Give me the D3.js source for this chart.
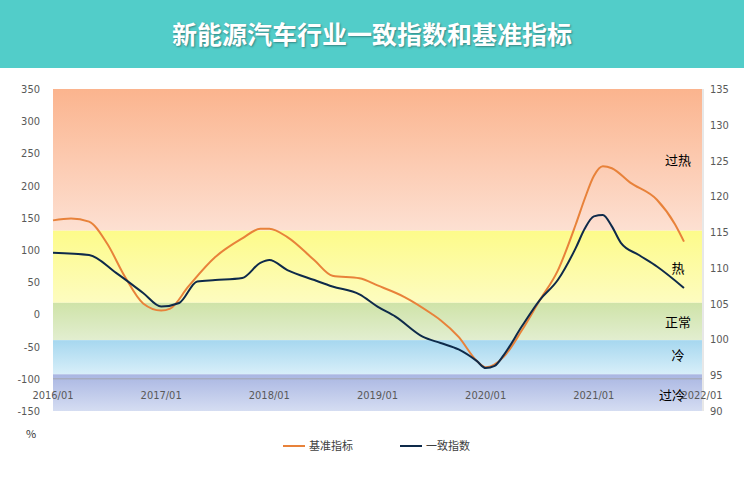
<!DOCTYPE html>
<html><head><meta charset="utf-8">
<script src="https://cdn.jsdelivr.net/npm/d3@7"></script>
<style>body{margin:0;background:#fff;font-family:"Noto Sans CJK SC","Noto Sans",sans-serif}</style>
</head><body><svg id="c" width="744" height="480"></svg>
<script>
// month index from 2016/01
var baseMonths = [0,2,4,6,8,10,12,13,15,18,21,23,24,26,29,31,34,36,39,42,43,45,47,48,50,52,54,56,58,59,60,61,62,64,67,69,70];
var baseValues = [146,149,144,110,58,17,6,9,43,89,118,133,133,120,84,60,56,45,27,1,-9,-35,-72,-82,-66,-25,22,68,140,180,215,230,227,205,178,140,113];
var cohMonths = [0,4,7,10,12,14,16,18,21,23,24,26,29,31,34,36,38,41,43,45,47,48,49,50,52,54,56,58,59,60,61,62,63,65,67,70];
var cohValues = [112.1,111.8,109.3,106.5,104.6,105.1,108.1,108.3,108.6,110.7,111.1,109.7,108.3,107.4,106.3,104.6,103.2,100.4,99.5,98.6,97.0,96.0,96.3,97.8,101.8,105.5,108.3,112.8,115.5,117.2,117.4,115.8,113.5,111.8,110.2,107.2];
var xLabels = ['2016/01','2017/01','2018/01','2019/01','2020/01','2021/01','2022/01'];
var leftTicks = [350,300,250,200,150,100,50,0,-50,-100,-150];
var rightTicks = [135,130,125,120,115,110,105,100,95,90];
var bands = [
  {lo:130, hi:350, top:'#fbb48e', bot:'#fde0d2', label:'过热', ly:160},
  {lo:18, hi:130, top:'#fdfb8a', bot:'#fdfcc0', label:'热', ly:268},
  {lo:-40, hi:18, top:'#cfe3a8', bot:'#e2eed0', label:'正常', ly:322},
  {lo:-93, hi:-40, top:'#a6d7ef', bot:'#d8eff9', label:'冷', ly:355},
  {lo:-150, hi:-93, top:'#a9b6e2', bot:'#d5ddf2', label:'过冷', ly:395}
];

var svg = d3.select('#c');
var x = d3.scaleLinear().domain([0,72]).range([53,702]);
var yL = d3.scaleLinear().domain([-150,350]).range([411,89]);
var yR = d3.scaleLinear().domain([90,135]).range([411,89]);

// title bar
svg.append('rect').attr('width',744).attr('height',68).attr('fill','#52cdc9');
svg.append('text').attr('x',372).attr('y',44).attr('text-anchor','middle')
  .attr('font-size',25).attr('font-weight','bold').attr('fill','#fff')
  .style('text-shadow','1px 1px 2px rgba(0,0,0,0.35)')
  .text('新能源汽车行业一致指数和基准指标');

var defs = svg.append('defs');
bands.forEach(function(b, i) {
  var g = defs.append('linearGradient').attr('id','g'+i).attr('x1',0).attr('y1',0).attr('x2',0).attr('y2',1);
  g.append('stop').attr('offset','0%').attr('stop-color',b.top);
  g.append('stop').attr('offset','100%').attr('stop-color',b.bot);
  svg.append('rect').attr('x',53).attr('width',649)
    .attr('y',yL(b.hi)).attr('height',yL(b.lo)-yL(b.hi)).attr('fill','url(#g'+i+')');
});

// category axis line at -100
svg.append('line').attr('x1',53).attr('x2',702).attr('y1',yL(-100)).attr('y2',yL(-100))
  .attr('stroke','#a0a0a0').attr('stroke-width',0.8);
svg.append('line').attr('x1',703).attr('x2',703).attr('y1',89).attr('y2',411)
  .attr('stroke','#d0d0d0');

var lab = {'font-size':11,'fill':'#595959','font-family':'"Liberation Sans Narrow","DejaVu Sans Condensed",sans-serif'};
function st(sel){ for (var k in lab) sel.attr(k, lab[k]); return sel; }

st(svg.selectAll('.lt').data(leftTicks).enter().append('text')
  .attr('x',40).attr('y',function(d){return yL(d)+4;}).attr('text-anchor','end').text(function(d){return d;}));
st(svg.selectAll('.rt').data(rightTicks).enter().append('text')
  .attr('x',710).attr('y',function(d){return yR(d)+4;}).text(function(d){return d;}));
st(svg.selectAll('.xt').data(xLabels).enter().append('text')
  .attr('x',function(d,i){return x(i*12);}).attr('y',399).attr('text-anchor','middle').text(function(d){return d;}));

svg.selectAll('.bl').data(bands).enter().append('text')
  .attr('x',function(d){return d.label=='过冷' ? 672 : 678;}).attr('y',function(d){return d.ly+5;}).attr('text-anchor','middle')
  .attr('font-size',13).attr('fill','#000').text(function(d){return d.label;});

var baseLine = d3.line().x(function(d){return x(d[0]);}).y(function(d){return yL(d[1]);}).curve(d3.curveMonotoneX);
var cohLine = d3.line().x(function(d){return x(d[0]);}).y(function(d){return yR(d[1]);}).curve(d3.curveMonotoneX);
svg.append('path').datum(d3.zip(baseMonths, baseValues)).attr('d', baseLine)
  .attr('fill','none').attr('stroke','#e8823a').attr('stroke-width',2);
svg.append('path').datum(d3.zip(cohMonths, cohValues)).attr('d', cohLine)
  .attr('fill','none').attr('stroke','#0e2a4a').attr('stroke-width',2);

svg.append('text').attr('x',26).attr('y',438).attr('font-size',11).attr('fill','#333').text('%');

// legend
var leg = [{n:'基准指标',c:'#e8823a',x:283},{n:'一致指数',c:'#0e2a4a',x:400}];
leg.forEach(function(l){
  svg.append('line').attr('x1',l.x).attr('x2',l.x+22).attr('y1',446).attr('y2',446).attr('stroke',l.c).attr('stroke-width',2);
  svg.append('text').attr('x',l.x+26).attr('y',450).attr('font-size',11).attr('fill','#404040').text(l.n);
});
</script></body></html>
